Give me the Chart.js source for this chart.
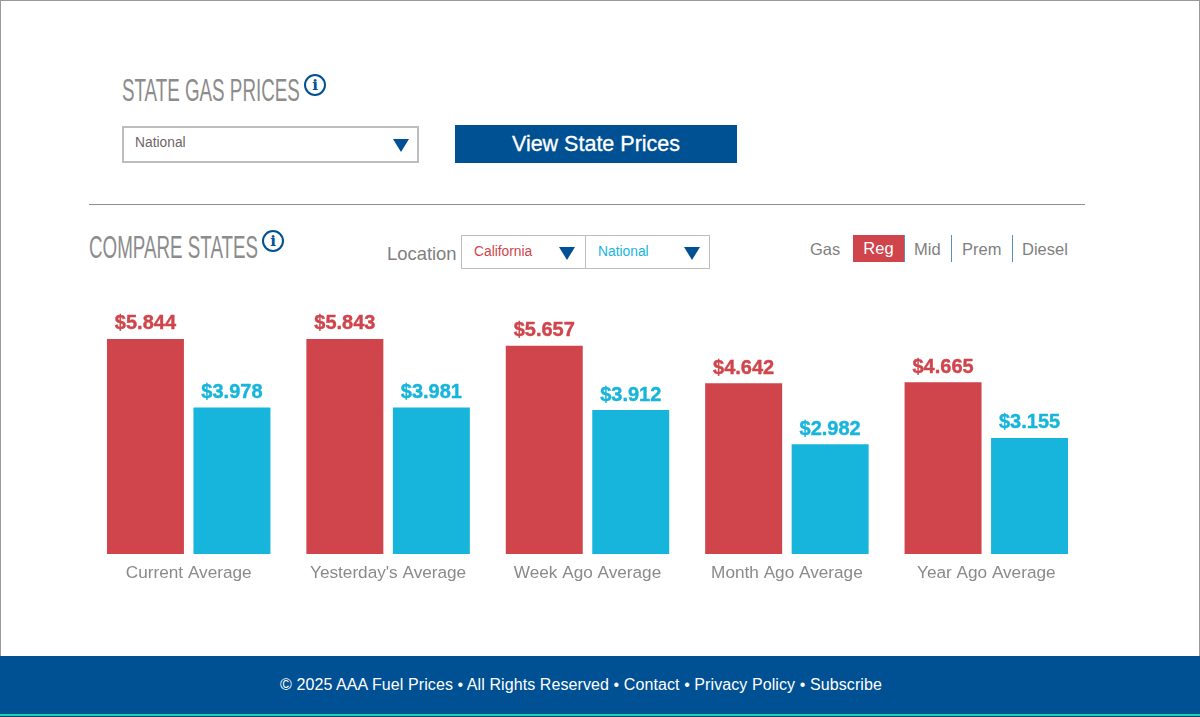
<!DOCTYPE html>
<html>
<head>
<meta charset="utf-8">
<title>State Gas Prices</title>
<script src="https://cdn.jsdelivr.net/npm/chart.js@4"></script>
<style>
  html, body { margin: 0; padding: 0; background: #fff; }
  body { width: 1200px; height: 717px; position: relative; overflow: hidden; font-family: "Liberation Sans", Arial, sans-serif; color: #8a8a8a; }
  .abs { position: absolute; white-space: nowrap; }
  .frame { left: 0; top: 0; width: 1198px; height: 700px; border: 1px solid #9a9a9a; border-bottom: 0; }
  .heading { font-size: 32px; line-height: 36px; color: #8c8c8c; transform: scaleX(0.587); transform-origin: left center; }
  .info { width: 18px; height: 18px; border: 2px solid #005094; border-radius: 50%; color: #005094; font: bold 15px/18px "DejaVu Serif", serif; text-align: center; }
  .select { box-sizing: border-box; background: #fff; border: 2px solid #bdbdbd; }
  .select span { position: absolute; left: 11px; top: 7px; font-size: 13.8px; line-height: 16px; }
  .arrow { position: absolute; width: 0; height: 0; border-left: 8px solid transparent; border-right: 8px solid transparent; border-top: 13px solid #005094; }
  .btn { left: 455px; top: 125px; width: 282px; height: 38px; background: #005094; color: #fff; font-size: 21.5px; line-height: 38px; text-align: center; -webkit-text-stroke: 0.3px #fff; }
  .rule { left: 89px; top: 204px; width: 996px; height: 1px; background: #8f8f8f; }
  .gas { top: 240px; font-size: 16.5px; line-height: 18px; color: #7f7f7f; }
  .sep { top: 235px; width: 1px; height: 27px; background: #5c8fbd; }
  .footer { left: 0; top: 656px; width: 1200px; height: 58px; background: #005094; }
  .footer-line { left: 0; top: 714px; width: 1200px; height: 2px; background: #14d4ac; }
  .footer-end { left: 0; top: 716px; width: 1200px; height: 1px; background: #00407a; }
  .footer-text { left: 280px; top: 676px; color: #fff; font-size: 16px; letter-spacing: 0.09px; line-height: 18px; }
  #chartWrap { position: absolute; left: 89px; top: 300px; width: 997px; height: 290px; }
</style>
</head>
<body>
<div class="abs frame"></div>

<div class="abs heading" style="left:122px;top:72px">STATE GAS PRICES</div>
<div class="abs info" style="left:304px;top:74px">i</div>
<div class="abs select" style="left:122px;top:126px;width:297px;height:37px">
  <span style="color:#6f6468">National</span>
  <div class="arrow" style="left:269px;top:11px"></div>
</div>
<div class="abs btn">View State Prices</div>
<div class="abs rule"></div>

<div class="abs heading" style="left:89px;top:229px">COMPARE STATES</div>
<div class="abs info" style="left:262px;top:230px">i</div>
<div class="abs" style="left:387px;top:245px;font-size:18.4px;line-height:18px;color:#808080">Location</div>
<div class="abs select" style="left:461px;top:235px;width:125px;height:34px;border-width:1px">
  <span style="color:#d0454c;left:12px;top:8px">California</span>
  <div class="arrow" style="left:97px;top:11px"></div>
</div>
<div class="abs select" style="left:585px;top:235px;width:125px;height:34px;border-width:1px">
  <span style="color:#17b5db;left:12px;top:8px">National</span>
  <div class="arrow" style="left:98px;top:11px"></div>
</div>

<div class="abs gas" style="left:810px">Gas</div>
<div class="abs" style="left:853px;top:235px;width:51px;height:27px;background:#d0454c;color:#fff;font-size:16.5px;line-height:27px;text-align:center">Reg</div>
<div class="abs sep" style="left:904px"></div>
<div class="abs gas" style="left:914px">Mid</div>
<div class="abs sep" style="left:951px"></div>
<div class="abs gas" style="left:962px">Prem</div>
<div class="abs sep" style="left:1012px"></div>
<div class="abs gas" style="left:1022px">Diesel</div>

<div id="chartWrap"><canvas id="pricesChart"></canvas></div>

<div class="abs footer"></div>
<div class="abs footer-line"></div>
<div class="abs footer-end"></div>
<div class="abs footer-text">© 2025 AAA Fuel Prices • All Rights Reserved • Contact • Privacy Policy • Subscribe</div>

<script>
// chart data
const categories = ["Current Average", "Yesterday's Average", "Week Ago Average", "Month Ago Average", "Year Ago Average"];
const californiaPrices = [5.844, 5.843, 5.657, 4.642, 4.665];
const nationalPrices = [3.978, 3.981, 3.912, 2.982, 3.155];

const RED = "#d0454c";
const BLUE = "#17b5db";

// draws the $ value above each bar
const priceLabels = {
  id: "priceLabels",
  afterDatasetsDraw(chart) {
    const ctx = chart.ctx;
    ctx.save();
    ctx.font = 'bold 20px "Liberation Sans", Arial, sans-serif';
    ctx.textAlign = "center";
    ctx.textBaseline = "alphabetic";
    ctx.lineWidth = 0.4;
    chart.data.datasets.forEach((ds, i) => {
      ctx.fillStyle = ds.backgroundColor;
      ctx.strokeStyle = ds.backgroundColor;
      chart.getDatasetMeta(i).data.forEach((bar, j) => {
        const text = "$" + ds.data[j].toFixed(3);
        ctx.fillText(text, bar.x, bar.y - 9.5);
        ctx.strokeText(text, bar.x, bar.y - 9.5);
      });
    });
    ctx.restore();
  },
};

new Chart(document.getElementById("pricesChart"), {
  type: "bar",
  data: {
    labels: categories,
    datasets: [
      { label: "California", data: californiaPrices, backgroundColor: RED },
      { label: "National", data: nationalPrices, backgroundColor: BLUE },
    ],
  },
  options: {
    responsive: true,
    maintainAspectRatio: false,
    animation: false,
    layout: { padding: 0 },
    categoryPercentage: 0.8675,
    barPercentage: 0.89,
    scales: {
      x: {
        grid: { display: false },
        border: { display: false },
        ticks: {
          color: "#8a8a8a",
          font: { family: '"Liberation Sans", Arial, sans-serif', size: 17.2 },
          padding: 1,
          maxRotation: 0,
          autoSkip: false,
        },
        afterFit(scale) { scale.height = 36; },
      },
      y: { display: false, min: 0, max: 6.902 },
    },
    plugins: {
      legend: { display: false },
      tooltip: { enabled: false },
    },
  },
  plugins: [priceLabels],
});
</script>
</body>
</html>
